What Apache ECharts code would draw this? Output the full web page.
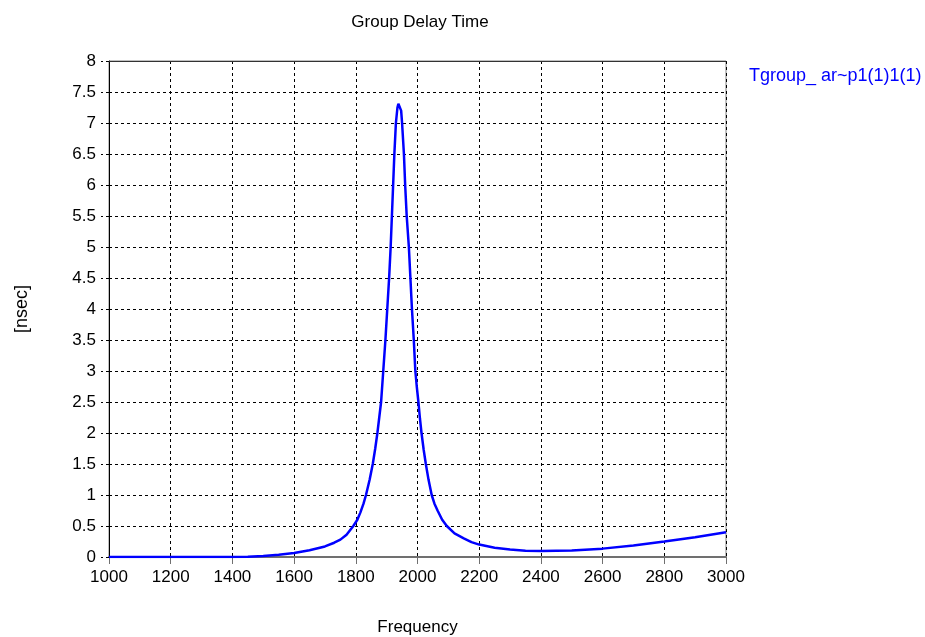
<!DOCTYPE html>
<html>
<head>
<meta charset="utf-8">
<script src="https://cdn.jsdelivr.net/npm/echarts@6/dist/echarts.min.js"></script>
<style>html,body{margin:0;padding:0;background:#fff;}#c{width:925px;height:637px;}</style>
</head>
<body>
<div id="c"></div>
<script>
var titleText = 'Group Delay Time';
var seriesName = 'Tgroup_ ar~p1(1)1(1)';
var xName = 'Frequency';
var yName = '[nsec]';
var freq  = [1000,1200,1400,1450,1500,1550,1600,1650,1700,1730,1750,1770,1792,1805,1815,1825,1833,1845,1855,1863,1870,1876,1882,1889,1896,1902,1908,1913,1917,1921,1925,1930,1935,1938,1941,1944,1947,1950,1956,1960,1965,1972,1977,1982,1988,1993,1998,2003,2008,2013,2020,2027,2036,2046,2055,2065,2080,2095,2120,2150,2175,2200,2250,2300,2350,2400,2500,2600,2700,2800,2900,3000];
var delay = [0,0,0,0.003,0.015,0.035,0.065,0.11,0.17,0.23,0.28,0.36,0.5,0.6,0.72,0.86,1.0,1.25,1.5,1.75,2.0,2.25,2.5,3.0,3.5,4.0,4.5,5.0,5.5,6.0,6.5,7.0,7.25,7.31,7.33,7.3,7.2,7.0,6.5,6.0,5.5,5.0,4.5,4.0,3.5,3.0,2.73,2.5,2.23,2.0,1.73,1.5,1.24,1.0,0.86,0.75,0.6,0.5,0.38,0.3,0.24,0.2,0.15,0.12,0.1,0.095,0.105,0.135,0.185,0.25,0.32,0.4];

var data = freq.map(function(f,i){return [f, delay[i]];});
var font = 'Liberation Sans';
var chart = echarts.init(document.getElementById('c'));
chart.setOption({
  animation:false,
  backgroundColor:'#fff',
  title:[
    {text:titleText, left:415, textAlign:'center', top:9,
     textStyle:{fontFamily:font, fontSize:17, fontWeight:'normal', color:'#000'}},
    {text:seriesName, left:744, top:62,
     textStyle:{fontFamily:font, fontSize:18, fontWeight:'normal', color:'#0000ff'}}
  ],
  grid:{left:109, right:199, top:61, bottom:80, show:true, borderColor:'#808080', borderWidth:1,
        containLabel:false, outerBoundsMode:'none'},
  xAxis:[{
    type:'value', min:1000, max:3000, interval:200,
    name:xName, nameLocation:'middle', nameGap:62,
    nameTextStyle:{fontFamily:font, fontSize:17, color:'#000'},
    axisLine:{show:true, lineStyle:{color:'#707070', width:2}},
    axisTick:{show:true, length:7, lineStyle:{color:'#707070'}},
    axisLabel:{fontFamily:font, fontSize:17, color:'#000', margin:12,
      formatter:function(v){return String(v);}},
    splitLine:{show:true, lineStyle:{color:'#000', type:[3,3], width:1}}
  },{
    type:'value', min:1000, max:3000, position:'top',
    axisLine:{show:true, lineStyle:{color:'#333', width:1}},
    axisTick:{show:false}, axisLabel:{show:false}, splitLine:{show:false}
  }],
  yAxis:{
    type:'value', min:0, max:8, interval:0.5,
    name:yName, nameLocation:'middle', nameGap:78, nameRotate:90,
    nameTextStyle:{fontFamily:font, fontSize:18, color:'#000'},
    axisLine:{show:true, lineStyle:{color:'#000', width:1}},
    axisTick:{show:true, length:8, lineStyle:{color:'#000', type:[3,3]}},
    axisLabel:{fontFamily:font, fontSize:17, color:'#000', margin:13},
    splitLine:{show:true, lineStyle:{color:'#000', type:[3,3], width:1}}
  },
  series:[{
    name:seriesName, type:'line', data:data, showSymbol:false,
    smooth:false,
    lineStyle:{color:'#0000ff', width:2.5}
  }]
});
</script>
</body>
</html>
